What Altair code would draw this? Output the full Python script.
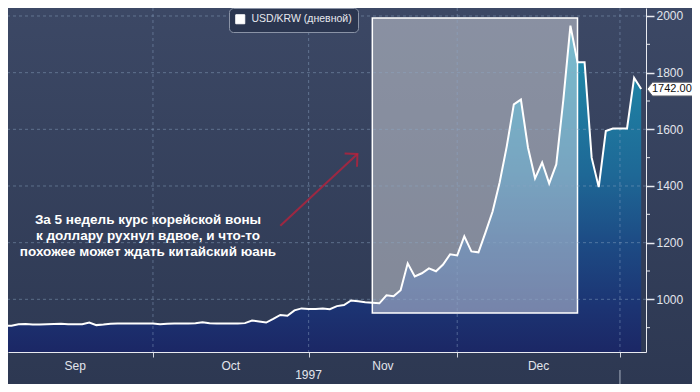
import altair as alt
import pandas as pd

# ---------------- data ----------------
series_name = "USD/KRW (дневной)"
start_date = "1997-09-01"          # first business day shown
values = [907, 907, 907, 912, 913, 911, 911, 912, 913, 914,
          912, 912, 912, 918, 909, 911, 914, 915, 915, 915,
          915, 915, 915, 912, 914, 915, 915, 915, 916, 919,
          916, 915, 915, 915, 915, 916, 925, 922, 918, 931,
          945, 942, 961, 968, 966, 966, 968, 965, 976, 980,
          996, 993, 990, 988, 986, 1014, 1011, 1032, 1127, 1081,
          1092, 1109, 1099, 1123, 1159, 1155, 1222, 1169, 1166, 1236,
          1310, 1413, 1540, 1688, 1705, 1536, 1427, 1483, 1409, 1476,
          1705, 1966, 1837, 1837, 1500, 1396, 1594, 1603, 1603, 1603,
          1782, 1742]
month_names = ["Sep", "Oct", "Nov", "Dec"]
month_bounds = [0, 22, 44, 65, 88]   # business-day index where each month starts
year_label = "1997"
highlight_idx = [53, 82]
highlight_val = [952, 1993]
arrow_idx = [40, 50.9]
arrow_val = [1260, 1513]
note_lines = ["За 5 недель курс корейской воны",
              "к доллару рухнул вдвое, и что-то",
              "похожее может ждать китайский юань"]
note_pos = [21.3, 1280]
y_major = [1000, 1200, 1400, 1600, 1800, 2000]
y_minor = [900, 1100, 1300, 1500, 1700, 1900]

dates = pd.bdate_range(start_date, periods=len(values))
df = pd.DataFrame({
    "i": list(range(len(values))),
    "date": dates.strftime("%Y-%m-%d"),
    "usdkrw": values,
    "series": series_name,
})

# ---------------- style ----------------
W, H = 638, 344
font = "Liberation Sans"
bg = "#2e3954"
text_col = "#e2e5ec"
axis_col = "#e8eaf0"
grid_col = "#8fa8c8"
arrow_col = "#c0203a"

x_dom = [1.512, 91.68]
y_dom = [814.1, 2028.2]
xs = alt.Scale(domain=x_dom, nice=False, zero=False)
ys = alt.Scale(domain=y_dom, nice=False, zero=False)

mids = [(a + b) / 2 for a, b in zip(month_bounds[:-1], month_bounds[1:])]
bounds = month_bounds[1:]

x_axis = alt.Axis(
    values=bounds, labels=False, grid=False,
    title=year_label, titleX=300, titlePadding=12, titleFontWeight="normal",
    titleFontSize=12, titleColor=text_col, titleFont=font,
    tickSize=5, tickColor="#d0d4dc", domainColor=axis_col, zindex=2,
)
y_axis = alt.Axis(
    orient="right", values=y_major, format="d", grid=False,
    tickSize=8, tickColor=axis_col, tickWidth=1.5, domainColor=axis_col,
    labelColor=text_col, labelFont=font, labelFontSize=12, labelPadding=2,
    title=None, zindex=2,
)


def X(field):
    return alt.X(field, scale=xs, axis=x_axis)


def Y(field):
    return alt.Y(field, scale=ys, axis=y_axis)


bg_grad = alt.LinearGradient(
    gradient="linear", x1=0, x2=0, y1=0, y2=1,
    stops=[alt.GradientStop(color="#3c4865", offset=0),
           alt.GradientStop(color="#2d3852", offset=1)],
)
area_grad = alt.LinearGradient(
    gradient="linear", x1=0, x2=0, y1=0, y2=1,
    stops=[
        alt.GradientStop(color="#2193b2", offset=0),
        alt.GradientStop(color="#1f83a5", offset=0.15),
        alt.GradientStop(color="#1e6896", offset=0.45),
        alt.GradientStop(color="#1d4c85", offset=0.65),
        alt.GradientStop(color="#1c3473", offset=0.85),
        alt.GradientStop(color="#1b2664", offset=1),
    ],
)

# page background (gradient panel behind everything)
backdrop = alt.Chart(pd.DataFrame({"k": [0]})).mark_rect(color=bg_grad).encode(
    x=alt.value(0), x2=alt.value(W + 46), y=alt.value(0), y2=alt.value(H + 32))

base = alt.Chart(df)
area = base.mark_area(clip=True, color=area_grad).encode(
    x=X("i:Q"), y=Y("usdkrw:Q"), y2=alt.datum(800))

hl_df = pd.DataFrame({"x0": [highlight_idx[0]], "x1": [highlight_idx[1]],
                      "y0": [highlight_val[0]], "y1": [highlight_val[1]]})
rect = alt.Chart(hl_df).mark_rect(
    fill="#ffffff", fillOpacity=0.4, stroke="#ffffff", strokeWidth=1.5
).encode(x=X("x0:Q"), x2="x1:Q", y=Y("y0:Q"), y2="y1:Q")

# dashed grid drawn above the area
vgrid = alt.Chart(pd.DataFrame({"b": bounds})).mark_rule(
    color=grid_col, strokeDash=[3, 3], strokeWidth=1, opacity=0.45
).encode(x=X("b:Q"))
hgrid = alt.Chart(pd.DataFrame({"v": y_major})).mark_rule(
    color=grid_col, strokeDash=[3, 3], strokeWidth=1, opacity=0.45
).encode(y=Y("v:Q"))

line = base.mark_line(clip=True, strokeWidth=2).encode(
    x=X("i:Q"), y=Y("usdkrw:Q"),
    color=alt.Color("series:N",
                    scale=alt.Scale(domain=[series_name], range=["#ffffff"]),
                    legend=alt.Legend(
                        title=None, orient="none", legendX=221, legendY=0,
                        symbolType="square", symbolSize=81,
                        symbolFillColor="#ffffff", symbolStrokeColor="#ffffff",
                        symbolStrokeWidth=1,
                        labelColor="#e6e8ee", labelFont=font, labelFontSize=10.5,
                        labelOffset=6, fillColor="#2b3650", strokeColor="#8a93a6",
                        cornerRadius=4, padding=6)),
)

arr_df = pd.DataFrame({"i": arrow_idx, "v": arrow_val})
arrow = alt.Chart(arr_df).mark_line(color=arrow_col, strokeWidth=2, opacity=0.75).encode(
    x=X("i:Q"), y=Y("v:Q"))
head = alt.Chart(arr_df.iloc[[-1]]).mark_point(
    shape="M-1,1L0,0L1,1", size=330, filled=False, strokeWidth=2,
    color=arrow_col, opacity=0.75, angle=47
).encode(x=X("i:Q"), y=Y("v:Q"))

note_df = pd.DataFrame({"i": [note_pos[0]], "v": [note_pos[1]]})
note = alt.Chart(note_df).mark_text(
    text=note_lines, align="center", baseline="middle", lineHeight=16,
    fontSize=13.5, fontWeight="bold", font=font, color="#ffffff"
).encode(x=X("i:Q"), y=Y("v:Q"))

# month labels centred between month boundaries
mon_df = pd.DataFrame({"m": mids, "name": month_names})
mon_text = alt.Chart(mon_df).mark_text(
    baseline="middle", align="center", fontSize=12, font=font, color=text_col
).encode(x=X("m:Q"), y=alt.value(H + 14), text="name:N")

# minor ticks on the right value axis
minor_df = pd.DataFrame({"v": y_minor})
minor = alt.Chart(minor_df).mark_rule(color=axis_col, strokeWidth=1).encode(
    y=Y("v:Q"), x=alt.value(W), x2=alt.value(W + 4))

last_df = pd.DataFrame({"v": [values[-1]], "lbl": [f"{values[-1]:.2f}"]})
tag = alt.Chart(last_df).mark_point(
    shape="M-1,0L-0.76,-0.3L1,-0.3L1,0.3L-0.76,0.3Z", size=2116,
    filled=True, fill="#ffffff", stroke="#5a5f6a", strokeWidth=1, opacity=1
).encode(x=alt.value(W + 24), y=Y("v:Q"))
tag_text = alt.Chart(last_df).mark_text(
    align="left", baseline="middle", fontSize=11, font=font, color="#111111"
).encode(x=alt.value(W + 6), y=Y("v:Q"), text="lbl:N")

yr_df = pd.DataFrame({"b": [month_bounds[-1]]})
year_rule = alt.Chart(yr_df).mark_rule(color="#aab2c2", strokeWidth=1).encode(
    x=X("b:Q"), y=alt.value(H + 18), y2=alt.value(H + 40))

chart = alt.layer(backdrop, area, rect, vgrid, hgrid, line, arrow, head, note,
                  mon_text, minor, tag, tag_text, year_rule).properties(
    width=W, height=H,
    padding={"left": 0, "top": 0, "right": 46, "bottom": 32},
    autosize=alt.AutoSizeParams(type="none"),
).configure(background=bg).configure_view(stroke="transparent").configure_legend(
    symbolBaseFillColor="#ffffff")

chart.save("out.html", embed_options={"renderer": "svg", "actions": False})
